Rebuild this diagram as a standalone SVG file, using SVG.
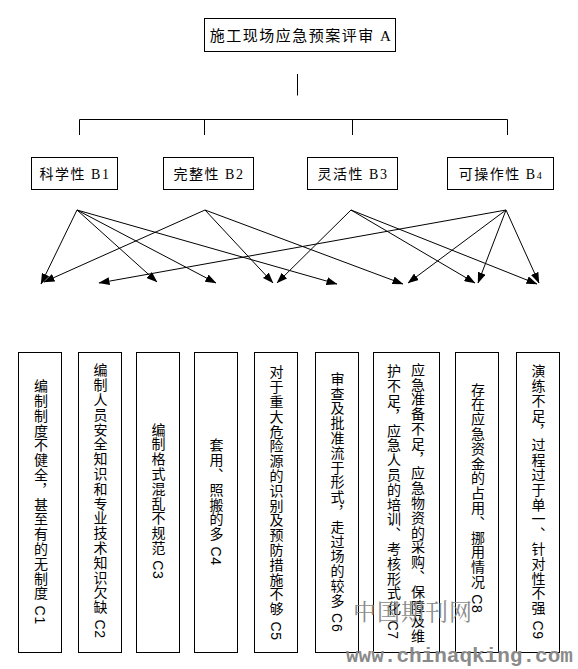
<svg xmlns="http://www.w3.org/2000/svg" width="578" height="669" viewBox="0 0 578 669">
<defs>
<marker id="ah" markerUnits="userSpaceOnUse" markerWidth="11" markerHeight="8" refX="10.5" refY="4" orient="auto"><path d="M0,0 L11,4 L0,8 z" fill="#000"/></marker>
</defs>
<style>
.box{fill:#fff;stroke:#000;stroke-width:1}
.t{font-family:"Liberation Serif","Noto Sans CJK SC",serif;font-size:14px;letter-spacing:1.5px;fill:#000;text-anchor:middle}
.v{font-family:"Liberation Sans","Noto Sans CJK SC",sans-serif;font-size:14px;letter-spacing:0.8px;writing-mode:vertical-rl;text-anchor:middle;fill:#000}
.ln{stroke:#000;stroke-width:1;fill:none}
.ar{stroke:#000;stroke-width:1;fill:none;marker-end:url(#ah)}
.wm{fill:#8a8a8a}
</style>
<rect width="578" height="669" fill="#fff"/>

<g id="A">
<rect class="box" x="204.5" y="18.5" width="191" height="33"/>
<text class="t" x="301" y="41" style="font-size:15px">施工现场应急预案评审 A</text>
</g>

<g id="B1"><rect class="box" x="31.5" y="157.5" width="86" height="32"/><text class="t" x="75" y="179">科学性 B1</text></g>
<g id="B2"><rect class="box" x="163.5" y="157.5" width="90" height="32"/><text class="t" x="209" y="179">完整性 B2</text></g>
<g id="B3"><rect class="box" x="307.5" y="157.5" width="90" height="32"/><text class="t" x="353" y="179">灵活性 B3</text></g>
<g id="B4"><rect class="box" x="447.5" y="157.5" width="106" height="32"/><text class="t" x="501" y="179">可操作性 B<tspan font-size="10">4</tspan></text></g>

<g id="C1"><rect class="box" x="18.5" y="352.5" width="43" height="300"/><text class="v" x="40" y="502">编制制度不健全，甚至有的无制度 C1</text></g>
<g id="C2"><rect class="box" x="78.5" y="352.5" width="43" height="300"/><text class="v" x="99.5" y="501">编制人员安全知识和专业技术知识欠缺 C2</text></g>
<g id="C3"><rect class="box" x="136.5" y="352.5" width="43" height="300"/><text class="v" x="157.5" y="501">编制格式混乱不规范 C3</text></g>
<g id="C4"><rect class="box" x="194.5" y="352.5" width="43" height="300"/><text class="v" x="215.5" y="502">套用、照搬的多 C4</text></g>
<g id="C5"><rect class="box" x="254.5" y="352.5" width="43" height="300"/><text class="v" x="275.5" y="503">对于重大危险源的识别及预防措施不够 C5</text></g>
<g id="C6"><rect class="box" x="315.5" y="352.5" width="43" height="300"/><text class="v" x="336.5" y="502">审查及批准流于形式，走过场的较多 C6</text></g>
<g id="C7"><rect class="box" x="373.5" y="352.5" width="66" height="300"/><text class="v" x="417" y="503">应急准备不足，应急物资的采购、保障及维</text><text class="v" x="393" y="502">护不足，应急人员的培训、考核形式化 C7</text></g>
<g id="C8"><rect class="box" x="455.5" y="352.5" width="43" height="300"/><text class="v" x="477" y="498">存在应急资金的占用、挪用情况 C8</text></g>
<g id="C9"><rect class="box" x="516.5" y="352.5" width="43" height="300"/><text class="v" x="537.5" y="502">演练不足，过程过于单一、针对性不强 C9</text></g>

<g id="connectors">
<path class="ln" d="M297.5,74 V95.5"/>
<path class="ln" d="M79.5,135 V119.5 H507.5 V135 M204.5,119.5 V135 M352.5,119.5 V135"/>
<line class="ar" x1="77" y1="210" x2="41" y2="284"/>
<line class="ar" x1="77" y1="210" x2="157" y2="282"/>
<line class="ar" x1="77" y1="210" x2="216" y2="283"/>
<line class="ar" x1="77" y1="210" x2="337" y2="284"/>
<line class="ar" x1="205" y1="210" x2="44" y2="282"/>
<line class="ar" x1="205" y1="210" x2="273" y2="283"/>
<line class="ar" x1="205" y1="210" x2="403" y2="284"/>
<line class="ar" x1="351" y1="210" x2="277" y2="283"/>
<line class="ar" x1="351" y1="210" x2="475" y2="283"/>
<line class="ar" x1="351" y1="210" x2="537" y2="284"/>
<line class="ar" x1="506" y1="210" x2="99" y2="283"/>
<line class="ar" x1="506" y1="210" x2="408" y2="283"/>
<line class="ar" x1="506" y1="210" x2="478" y2="283"/>
<line class="ar" x1="506" y1="210" x2="539" y2="283"/>
</g>

<g id="watermark">
<text class="wm" x="353" y="620" style="font-family:'Noto Serif CJK SC','Noto Sans CJK SC',serif;font-size:23px;letter-spacing:1px">中国期刊网</text>
<text class="wm" x="346" y="662" style="font-family:'Liberation Mono',monospace;font-size:21px;font-weight:bold">www.chinaqking.com</text>
</g>
</svg>
